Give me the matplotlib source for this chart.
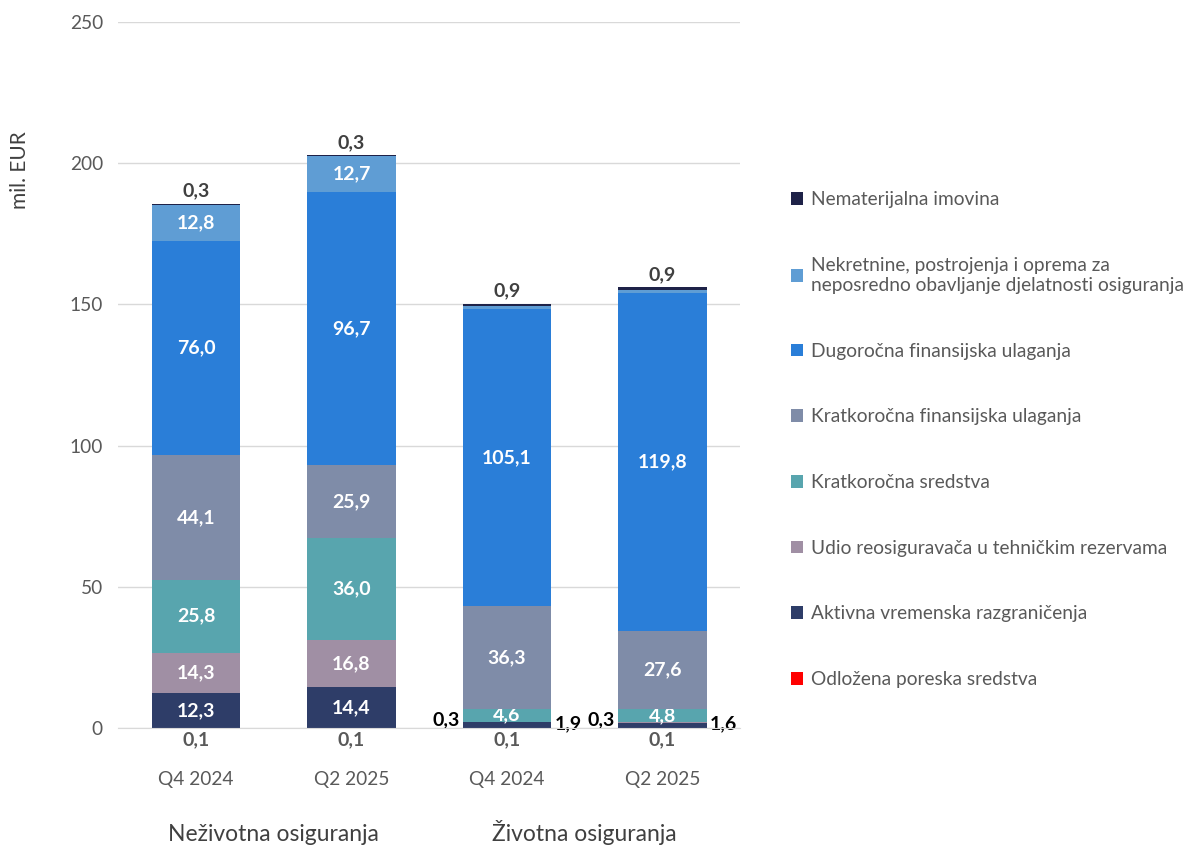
import numpy as np
import matplotlib
matplotlib.use('Agg')
import matplotlib.pyplot as plt
from matplotlib.patches import Patch

plt.rcParams['font.family'] = ['Lato', 'DejaVu Sans']

#%% Data
quarters = ['Q4 2024', 'Q2 2025', 'Q4 2024', 'Q2 2025']
groups = ['Neživotna osiguranja', 'Životna osiguranja']

series = ['Odložena poreska sredstva',
          'Aktivna vremenska razgraničenja',
          'Udio reosiguravača u tehničkim rezervama',
          'Kratkoročna sredstva',
          'Kratkoročna finansijska ulaganja',
          'Dugoročna finansijska ulaganja',
          'Nekretnine, postrojenja i oprema za\nneposredno obavljanje djelatnosti osiguranja',
          'Nematerijalna imovina']

odlozena = [0.1, 0.1, 0.1, 0.1]
aktivna = [12.3, 14.4, 1.9, 1.6]
udio = [14.3, 16.8, 0.3, 0.3]
kratk_sredstva = [25.8, 36.0, 4.6, 4.8]
kratk_ulaganja = [44.1, 25.9, 36.3, 27.6]
dugor_ulaganja = [76.0, 96.7, 105.1, 119.8]
nekretnine = [12.8, 12.7, 1.0, 1.0]
nematerijalna = [0.3, 0.3, 0.9, 0.9]

colors = ['#FF0000', '#2E3D68', '#A08FA4', '#58A5AE', '#7F8CA8',
          '#2A7ED8', '#5F9DD4', '#1E2248']

data = np.array([odlozena, aktivna, udio, kratk_sredstva, kratk_ulaganja,
                 dugor_ulaganja, nekretnine, nematerijalna])

#%% Plot
fig = plt.figure(figsize=(11.94, 8.5), dpi=100)
ax = fig.add_axes([0.099, 0.1435, 0.521, 0.8305])

x = np.arange(len(quarters))
width = 0.57
bottom = np.zeros(len(quarters))
fs = 14
for k, vals in enumerate(data):
    ax.bar(x, vals, width, bottom=bottom, color=colors[k], zorder=3)
    for i, v in enumerate(vals):
        lab = '{:.1f}'.format(v).replace('.', ',')
        mid = bottom[i] + v / 2
        if k == 0:
            ax.text(x[i], -1.3, lab, ha='center', va='top', fontsize=fs,
                    fontweight='bold', color='#595959')
        elif k == len(data) - 1:
            ax.text(x[i], bottom[i] + v + 1.5, lab, ha='center', va='bottom',
                    fontsize=fs, fontweight='bold', color='#404040')
        elif v < 3 and k == 1:
            # small values outside the bar, right side
            ax.text(x[i] + width / 2 + 0.02, 1.6, lab, ha='left', va='center',
                    fontsize=fs, fontweight='bold', color='black')
        elif v < 3 and k == 2:
            # small values outside the bar, left side
            ax.text(x[i] - width / 2 - 0.02, 3.0, lab, ha='right', va='center',
                    fontsize=fs, fontweight='bold', color='black')
        elif v >= 3:
            ax.text(x[i], mid, lab, ha='center', va='center', fontsize=fs,
                    fontweight='bold', color='white')
    bottom += vals

ax.set_xlim(-0.5, 3.5)
ax.set_ylim(0, 250)
ax.set_yticks(np.arange(0, 251, 50))
ax.set_xticks(x)
ax.set_xticklabels(quarters)
ax.tick_params(axis='both', length=0, labelsize=13.75, colors='#595959')
ax.tick_params(axis='x', pad=31)
ax.tick_params(axis='y', pad=11)
ax.yaxis.grid(True, color='#D9D9D9', linewidth=1, zorder=0)
for s in ['top', 'right', 'left']:
    ax.spines[s].set_visible(False)
ax.spines['bottom'].set_color('#D9D9D9')
ax.spines['bottom'].set_zorder(4)

ax.set_ylabel('mil. EUR', fontsize=15, color='#404040')
ax.yaxis.set_label_coords(-0.1415, 0.79)

for g, name in enumerate(groups):
    ax.text(0.5 + 2 * g, -40, name, ha='center', va='baseline', fontsize=16.5,
            color='#404040')

handles = [Patch(facecolor=colors[k]) for k in range(len(series))][::-1]
fig.legend(handles, series[::-1], loc='upper left',
           bbox_to_anchor=(0.648, 0.795), frameon=False, fontsize=13.75,
           labelcolor='#595959', handlelength=0.65, handleheight=0.65,
           handletextpad=0.4, labelspacing=2.55)

plt.savefig('out.png', dpi=100)
